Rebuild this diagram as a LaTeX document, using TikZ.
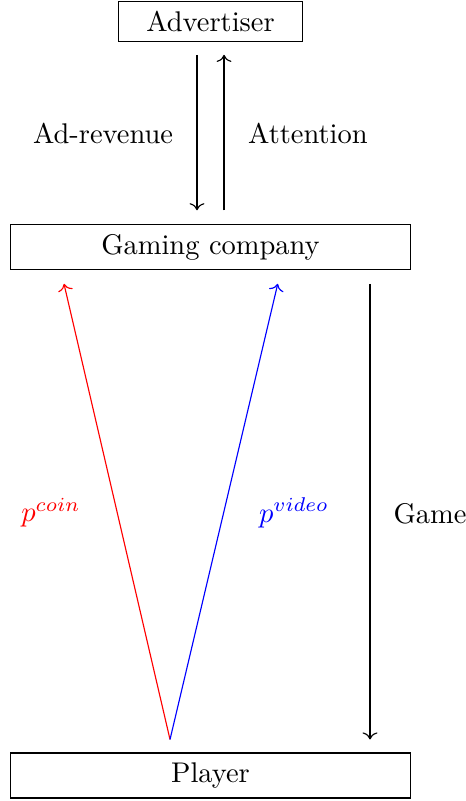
\documentclass[tikz,border=0pt]{standalone}
\usepackage{amsmath,amssymb}
\usepackage{tikz}
\usetikzlibrary{arrows.meta,positioning,calc}

\begin{document}
\begin{tikzpicture}[
  every node/.style={font=\normalsize},
  party/.style={draw, rectangle, inner sep=3.33pt},
  flow/.style={->},
]
\useasboundingbox (0,0) rectangle (5.753,-9.889);

% ---- Parties ----
\node[party, minimum width=2.28cm, minimum height=0.457cm] (adv) at (2.599,-0.265) {Advertiser};
\node[party, minimum width=4.93cm, minimum height=0.545cm] (gc) at (2.599,-3.050) {Gaming company};
\node[party, minimum width=4.93cm, minimum height=0.555cm] (pl) at (2.599,-9.574) {Player};

% ---- Anchor points for the connectors ----
\coordinate (advL) at ([xshift=-0.167cm, yshift=-0.16cm]adv.south);
\coordinate (advR) at ([xshift=0.167cm, yshift=-0.16cm]adv.south);
\coordinate (gcTL) at ([xshift=-0.167cm, yshift=0.17cm]gc.north);
\coordinate (gcTR) at ([xshift=0.167cm, yshift=0.17cm]gc.north);
\coordinate (gcC) at ([xshift=-1.809cm, yshift=-0.17cm]gc.south);
\coordinate (gcV) at ([xshift=0.830cm, yshift=-0.17cm]gc.south);
\coordinate (gcG) at ([xshift=1.969cm, yshift=-0.17cm]gc.south);
\coordinate (plV) at ([xshift=-0.500cm, yshift=0.16cm]pl.north);
\coordinate (plG) at ([xshift=1.969cm, yshift=0.16cm]pl.north);

% ---- Advertiser <-> gaming company ----
\draw[flow] (advL) -- (gcTL);
\draw[flow] (gcTR) -- (advR);
\node (rev) at (1.272,-1.642) {Ad-revenue};
\node (att) at (3.802,-1.642) {Attention};

% ---- Player -> gaming company ----
\draw[flow, red] (plV) -- (gcC);
\draw[flow, blue] (plV) -- (gcV);
\node[red] (coin) at (0.630,-6.333) {$p^{coin}$};
\node[blue] (video) at (3.630,-6.333) {$p^{video}$};

% ---- Gaming company -> player ----
\draw[flow] (gcG) -- (plG);
\node (game) at (5.309,-6.345) {Game};

\end{tikzpicture}
\end{document}
